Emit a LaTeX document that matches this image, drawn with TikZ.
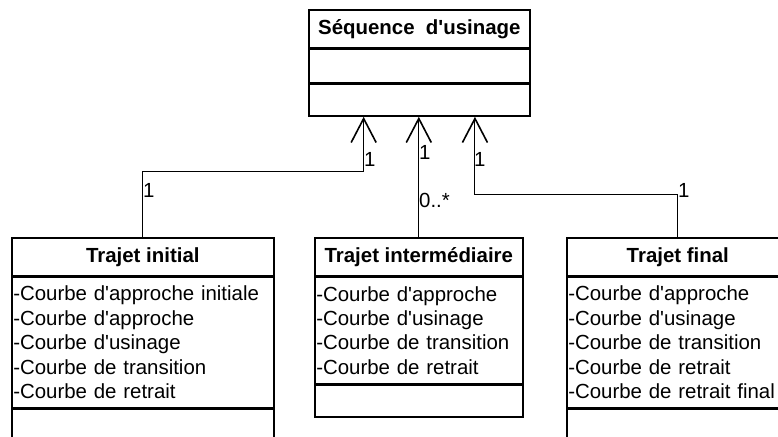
\documentclass[tikz,border=0pt]{standalone}
\usepackage{fontspec}
\setmainfont{Liberation Sans}[Ligatures=TeXOff]
\usetikzlibrary{arrows.meta, positioning, calc}
\newcommand\umlfont{\fontsize{20.5}{24.5}\selectfont}

\tikzset{
  umlhead/.style={draw, line width=1.6bp, font=\umlfont\bfseries, minimum height=38bp, inner sep=0pt, anchor=north west},
  umlpart/.style={draw, line width=1.6bp, inner xsep=1.5bp, inner ysep=0pt, align=left, anchor=north},
  assoc/.style={line width=1bp, -{Straight Barb[length=24bp, width=25bp, line width=1.6bp]}},
  mult/.style={inner sep=0pt, anchor=north west}
}

\begin{document}
\begin{tikzpicture}[x=1bp, y=-1bp, font=\umlfont]
\useasboundingbox (0,0) rectangle (778,437);
\clip (0,0) rectangle (778,437);
% classe Sequence d'usinage
\node[umlhead, minimum width=221bp] (seq) at (308,9) {Séquence~~d'usinage};
\node[umlpart, text width=218bp, minimum height=33bp] (seqattr) at (seq.south) {};
\node[umlpart, text width=218bp, minimum height=32bp] (seqops) at (seqattr.south) {};
% classe Trajet initial
\node[umlhead, minimum width=262bp] (tinit) at (11,237) {Trajet initial};
\node[umlpart, text width=259bp, minimum height=130bp] (tinitattr) at (tinit.south)
  {-Courbe d'approche initiale\\-Courbe d'approche\\-Courbe d'usinage\\-Courbe de transition\\-Courbe de retrait};
\node[umlpart, text width=259bp, minimum height=40bp] (tinitops) at (tinitattr.south) {};
% classe Trajet intermediaire
\node[umlhead, minimum width=208bp] (tmid) at (314,237) {Trajet intermédiaire};
\node[umlpart, text width=205bp, minimum height=106bp] (tmidattr) at (tmid.south)
  {-Courbe d'approche\\-Courbe d'usinage\\-Courbe de transition\\-Courbe de retrait};
\node[umlpart, text width=205bp, minimum height=32bp] (tmidops) at (tmidattr.south) {};
% classe Trajet final
\node[umlhead, minimum width=222bp] (tfin) at (566,237) {Trajet final};
\node[umlpart, text width=219bp, minimum height=130bp] (tfinattr) at (tfin.south)
  {-Courbe d'approche\\-Courbe d'usinage\\-Courbe de transition\\-Courbe de retrait\\-Courbe de retrait final};
\node[umlpart, text width=219bp, minimum height=40bp] (tfinops) at (tfinattr.south) {};

% associations
\coordinate (a1) at ($(seqops.south west)!0.25!(seqops.south east)$);
\coordinate (a2) at ($(seqops.south west)!0.5!(seqops.south east)$);
\coordinate (a3) at ($(seqops.south west)!0.75!(seqops.south east)$);
\draw[assoc] (tinit.north) -- ++(0,-65) -| (a1);
\draw[assoc] (tmid.north) -- (tmid.north |- a2);
\draw[assoc] (tfin.north) -- ++(0,-42) -| (a3);

% multiplicites
\node[mult] (m1) at (364,152) {1};
\node[mult] (m2) at (419,145) {1};
\node[mult] (m3) at (474,152) {1};
\node[mult] (m4) at (419,193) {0..*};
\node[mult] (m5) at (143,183) {1};
\node[mult] (m6) at (678,183) {1};
\end{tikzpicture}
\end{document}
